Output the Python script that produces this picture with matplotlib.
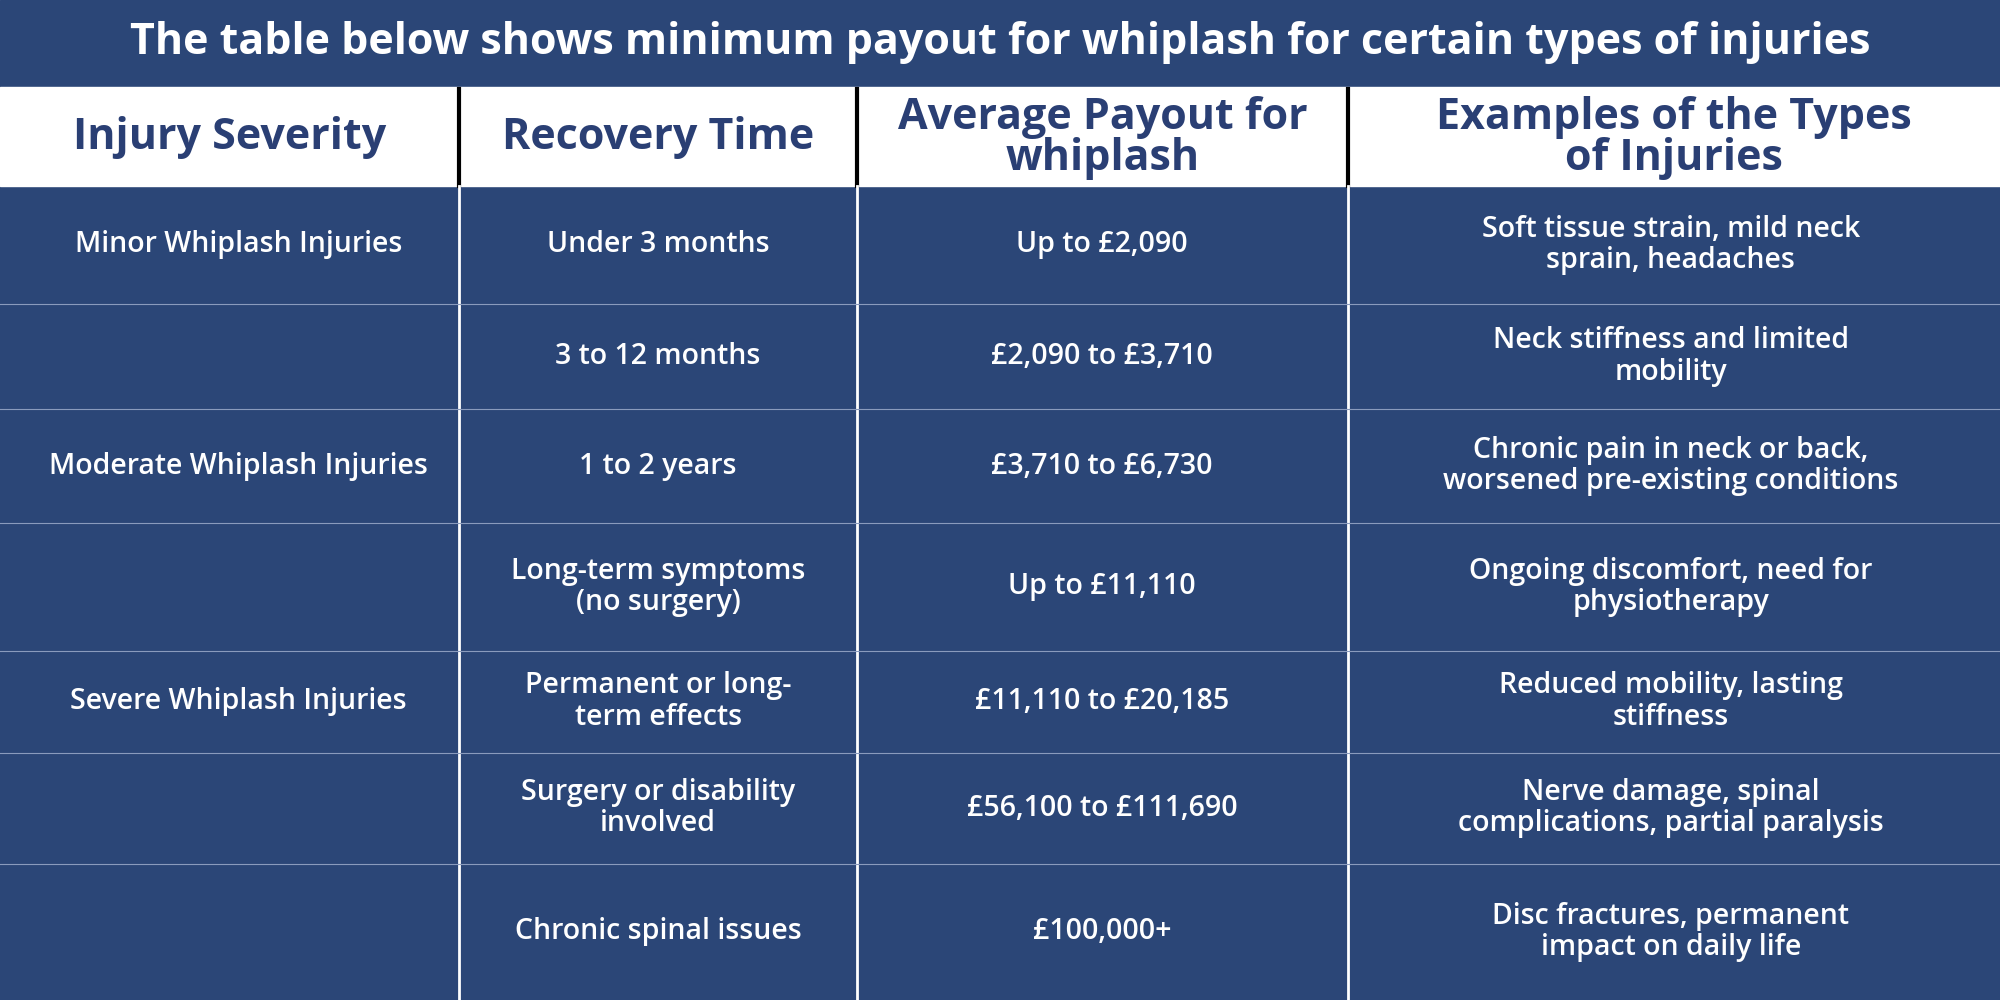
import matplotlib
matplotlib.use("Agg")
import matplotlib.pyplot as plt
from matplotlib.patches import Rectangle

title = "The table below shows minimum payout for whiplash for certain types of injuries"
headers = ["Injury Severity", "Recovery Time", "Average Payout for\nwhiplash", "Examples of the Types\nof Injuries"]
severity = ["Minor Whiplash Injuries", "", "Moderate Whiplash Injuries", "", "Severe Whiplash Injuries", "", ""]
recovery = ["Under 3 months", "3 to 12 months", "1 to 2 years", "Long-term symptoms\n(no surgery)",
            "Permanent or long-\nterm effects", "Surgery or disability\ninvolved", "Chronic spinal issues"]
payout = ["Up to £2,090", "£2,090 to £3,710", "£3,710 to £6,730", "Up to £11,110",
          "£11,110 to £20,185", "£56,100 to £111,690", "£100,000+"]
examples = ["Soft tissue strain, mild neck\nsprain, headaches", "Neck stiffness and limited\nmobility",
            "Chronic pain in neck or back,\nworsened pre-existing conditions",
            "Ongoing discomfort, need for\nphysiotherapy", "Reduced mobility, lasting\nstiffness",
            "Nerve damage, spinal\ncomplications, partial paralysis",
            "Disc fractures, permanent\nimpact on daily life"]

W, H = 1568, 784
col_edges = [0, 360, 672, 1057, 1568]
row_edges = [146, 238, 321, 410, 510, 590, 677, 784]
bg = "#2b4677"
navy = "#2a3f74"
font = "Open Sans"

fig = plt.figure(figsize=(20, 10), dpi=100)
ax = fig.add_axes([0, 0, 1, 1])
ax.set_xlim(0, W); ax.set_ylim(H, 0); ax.axis("off")
ax.add_patch(Rectangle((0, 0), W, H, color=bg))
ax.add_patch(Rectangle((0, 68), W, 78, color="white"))
ax.text(W / 2, 33, title, ha="center", va="center", color="white", fontsize=31,
        fontweight="bold", family=font)
for i in range(1, 4):
    ax.plot([col_edges[i]] * 2, [70, 146], color="black", lw=3)
    ax.plot([col_edges[i]] * 2, [146, H], color="white", lw=2)
for y in row_edges[1:-1]:
    ax.plot([0, W], [y, y], color="#8a9bbd", lw=0.8)
for c in range(4):
    cx = (col_edges[c] + col_edges[c + 1]) / 2
    ax.text(cx, 108, headers[c], ha="center", va="center", color=navy, fontsize=31,
            fontweight="bold", family=font, linespacing=0.95)
cols = [severity, recovery, payout, examples]
centers = [187, 516, 864, 1310]
for r in range(7):
    cy = (row_edges[r] + row_edges[r + 1]) / 2
    for c in range(4):
        ax.text(centers[c], cy, cols[c][r], ha="center", va="center", color="white",
                fontsize=20.5, fontweight="semibold", family=font, linespacing=1.1)
fig.savefig("out.png", dpi=100)
